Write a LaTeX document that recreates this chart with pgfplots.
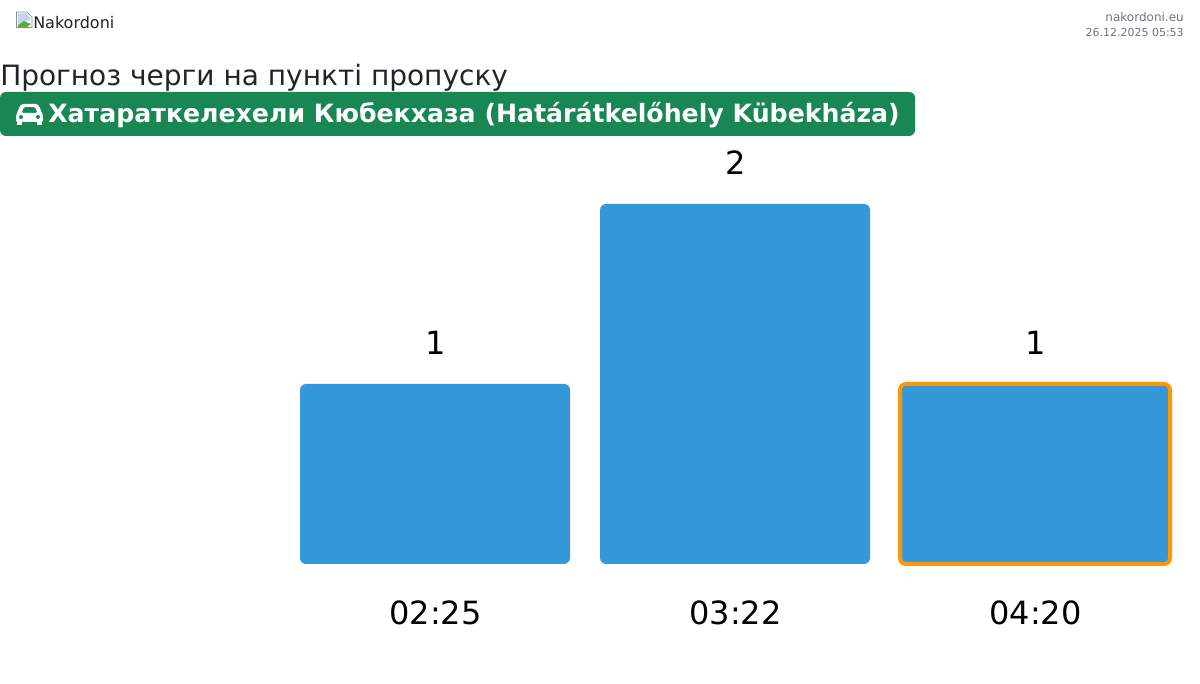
\documentclass[border=0pt]{standalone}
\usepackage{fontspec}
\setmainfont{DejaVu Sans}
\usepackage{pgfplots}
\pgfplotsset{compat=1.18}
\definecolor{barblue}{HTML}{3498DB}
\definecolor{hlorange}{HTML}{FF9800}
\definecolor{bsgreen}{HTML}{198754}
\definecolor{ink}{HTML}{212529}
\definecolor{mutedgrey}{HTML}{6C757D}
\definecolor{iconsky}{HTML}{C3D5F0}
\definecolor{iconhill}{HTML}{5FA83C}
\begin{document}
\begin{tikzpicture}
\useasboundingbox (0,-90pt) rectangle (900pt,423pt);
\begin{axis}[
  at={(0,0)}, anchor=south west, scale only axis,
  width=900pt, height=423pt,
  xmin=-1.45, xmax=2.55, ymin=0, ymax=3.13333,
  axis line style={draw=none},
  ytick=\empty,
  xtick={0,1,2},
  xticklabels={02:25,03:22,04:20},
  major tick length=0pt,
  xticklabel style={font=\fontsize{24}{28}\selectfont, color=black, anchor=center, yshift=-36.5pt, xshift=0.4pt},
  /pgf/number format/assume math mode=true,
  ybar, bar width=202.5pt, bar shift=0pt,
  clip=false,
  nodes near coords,
  nodes near coords style={font=\fontsize{24}{28}\selectfont, color=black, anchor=center, yshift=30.75pt, xshift=0.4pt},
  point meta=y,
]
\addplot[fill=barblue, draw=none, rounded corners=4.5pt] coordinates {(0,1) (1,2)};
\addplot[fill=barblue, draw=hlorange, line width=3pt, rounded corners=4.5pt] coordinates {(2,1)};
\end{axis}
\begin{scope}[shift={(0,423pt)}, x=0.75pt, y=-0.75pt]
  % broken image icon
  \draw[line width=0.5pt, draw=black!45, fill=white] (16.5,12) -- (27,12) -- (32,17) -- (32,27.5) -- (16.5,27.5) -- cycle;
  \fill[iconsky] (18,13.5) -- (26,13.5) -- (30.5,18) -- (30.5,20) -- (18,24) -- cycle;
  \fill[iconhill] (18,27) -- (18,25) -- (24,21) -- (31,24) -- (27,27) -- cycle;
  \node[anchor=west, inner sep=0pt, text=ink, font=\fontsize{12}{14}\selectfont] at (33,22.5) {Nakordoni};
  % top right
  \node[anchor=east, inner sep=0pt, text=mutedgrey, font=\fontsize{9}{12}\selectfont] at (1184,17) {nakordoni.eu};
  \node[anchor=east, inner sep=0pt, text=mutedgrey, font=\fontsize{8.25}{12}\selectfont] at (1184,33) {26.12.2025 05:53};
  % title
  \node[anchor=base west, inner sep=0pt, text=ink, font=\fontsize{21}{25}\selectfont] at (0,85.5) {Прогноз черги на пункті пропуску};
  % banner
  \fill[bsgreen, rounded corners=4.5pt] (0,92) rectangle (915,136);
  % car icon
  \fill[white, even odd rule, rounded corners=1pt] (17,113) -- (20,106) -- (22,104) -- (37,104) -- (39,106) -- (42,113) -- (43,116) -- (43,122) -- (16,122) -- (16,116) -- cycle
     (21.5,113) -- (37.5,113) -- (35,107) -- (24,107) -- cycle;
  \fill[white] (17,120) rectangle (22,125);
  \fill[white] (37,120) rectangle (42,125);
  \fill[bsgreen] (21,117) circle (2);
  \fill[bsgreen] (38,117) circle (2);
  \node[anchor=base west, inner sep=0pt, text=white, font=\bfseries\fontsize{18.9}{24}\selectfont] at (48,123) {Хатараткелехели Кюбекхаза (Határátkelőhely Kübekháza)};
\end{scope}
\end{tikzpicture}
\end{document}
